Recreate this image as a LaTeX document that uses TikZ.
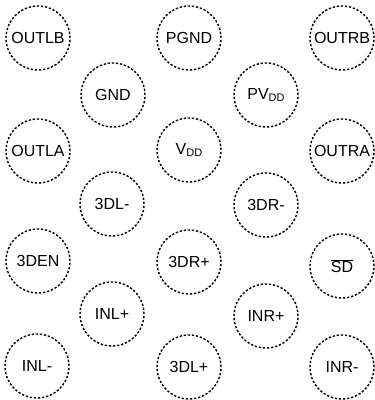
\documentclass[tikz,border=0pt]{standalone}
\usepackage{fontspec}
\setmainfont{Liberation Sans}
\begin{document}
\begin{tikzpicture}[x=1pt,y=-1pt,
  pin/.style={circle,draw,line width=1.4pt,dash pattern=on 2.3pt off 1.8pt,minimum size=64pt,inner sep=0pt,font=\fontsize{16}{18}\selectfont}]
\useasboundingbox (0,0) rectangle (375,400);
\newcommand{\sbs}[1]{\raisebox{-0.35ex}{\fontsize{11}{12}\selectfont #1}}
\node[pin] (outlb) at (38,38) {OUTLB};
\node[pin] (pgnd) at (189,38) {PGND};
\node[pin] (outrb) at (342,38) {OUTRB};
\node[pin] (gnd) at (113,95) {GND};
\node[pin] (pvdd) at (266,95) {PV\sbs{DD}};
\node[pin] (outla) at (38,151) {OUTLA};
\node[pin] (vdd) at (189,150) {V\sbs{DD}};
\node[pin] (outra) at (342,151) {OUTRA};
\node[pin] (dlm) at (112,204) {3DL-};
\node[pin] (drm) at (266,205) {3DR-};
\node[pin] (den) at (38,261) {3DEN};
\node[pin] (drp) at (189,262) {3DR+};
\node[pin] (sd) at (342,266) {$\overline{\mbox{SD}}$};
\node[pin] (inlp) at (112,314) {INL+};
\node[pin] (inrp) at (266,316) {INR+};
\node[pin] (inlm) at (37,366) {INL-};
\node[pin] (dlp) at (189,367) {3DL+};
\node[pin] (inrm) at (342,367) {INR-};
\end{tikzpicture}
\end{document}
